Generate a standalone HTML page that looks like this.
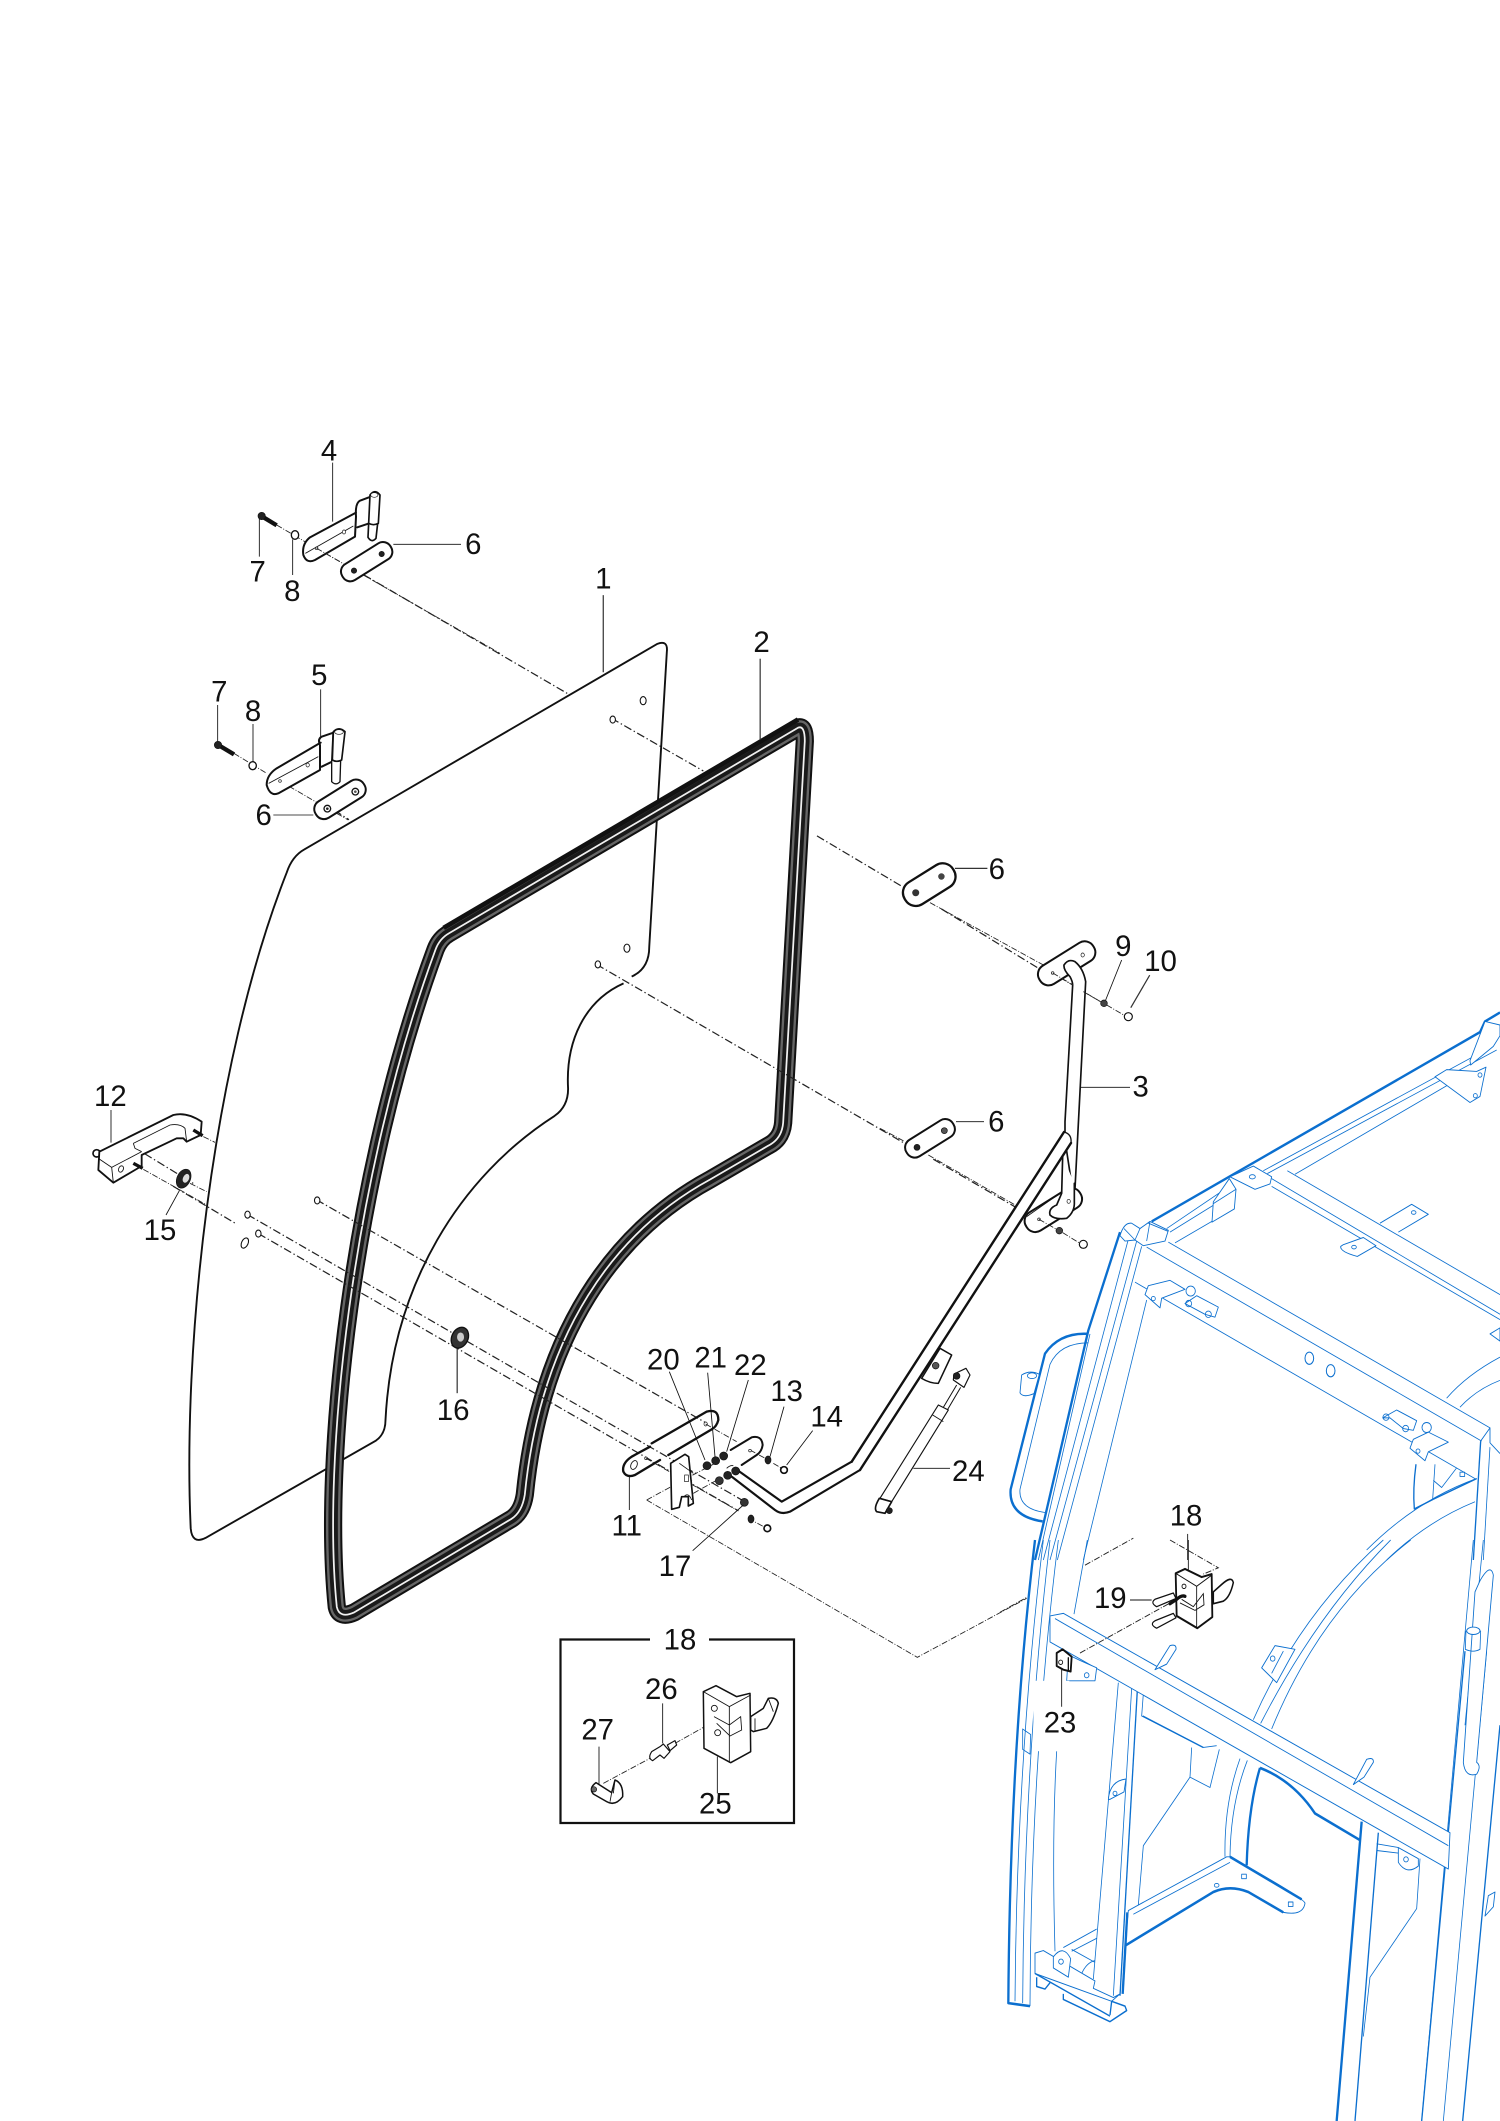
<!DOCTYPE html>
<html><head><meta charset="utf-8"><style>
html,body{margin:0;padding:0;background:#fff}
svg{display:block}
text{font-family:"Liberation Sans",sans-serif;fill:#111;text-anchor:middle}
.z text{font-size:88px}
.th{fill:none;stroke:#111;stroke-width:2.6}
.o{fill:#fff;stroke:#111;stroke-width:6;stroke-linejoin:round;stroke-linecap:round}
.o2{fill:#fff;stroke:#111;stroke-width:3.5;stroke-linejoin:round}
.n{fill:none;stroke:#111;stroke-width:7;stroke-linecap:round;stroke-linejoin:round}
.d{fill:none;stroke:#222;stroke-width:2.6;stroke-dasharray:18 5 3 5}
.dk{fill:#222;stroke:#111;stroke-width:2}
.h{fill:#fff;stroke:#111;stroke-width:2}
.t{fill:none;stroke:#0b6fcf;stroke-width:2.4;stroke-linejoin:round}
.m{fill:none;stroke:#0b6fcf;stroke-width:4;stroke-linejoin:round}
.k{fill:none;stroke:#0b6fcf;stroke-width:7;stroke-linejoin:round}
.w{fill:#fff;stroke:#0b6fcf;stroke-width:2.6;stroke-linejoin:round}
</style></head><body>
<svg width="1500" height="2121" viewBox="0 0 1500 2121" xmlns="http://www.w3.org/2000/svg">
<rect width="1500" height="2121" fill="#fff"/>

<!-- Blue frame lower -->
<g class="z" transform="translate(1000,1540) scale(.33333,.37052)">
 <path class="k" d="M105,0 Q30,560 25,1250 L90,1258"/>
 <path class="t" d="M130,0 Q50,600 45,1245M150,0 Q72,600 68,1250M175,0 Q92,600 90,1258M262,0 L222,200"/>
 <path class="t" d="M1150,0 Q900,200 760,485M1172,0 Q950,200 782,495M1232,0 Q960,190 815,510"/>
 <path class="t" d="M720,590 Q672,710 675,855M742,595 Q692,710 690,855"/>
 <path class="k" d="M780,615 Q745,720 740,878"/>
 <path class="t" d="M1420,0 L1265,1568M1450,0 L1395,500"/>
 <path class="m" d="M1395,300 L1265,1568"/>
 <path class="m" d="M1500,500 L1388,1568"/>
 <path class="t" d="M1460,300 L1330,1568"/>
 <path class="w" d="M1440,110 Q1472,60 1480,95 L1430,600 Q1445,610 1430,632 Q1395,642 1390,600 L1425,140 Z"/>
 <ellipse class="w" cx="1420" cy="245" rx="20" ry="10"/><path class="t" d="M1398,245 L1396,295 Q1420,305 1440,295 L1442,245"/>
 <path class="t" d="M430,415 L425,475 L610,560 L650,555 M575,560 L570,640 L630,668 L658,565 M570,640 L430,825 L415,985"/>
 <path class="m" d="M428,475 L610,560"/>
 <path class="w" d="M680,855 L385,1000 L375,1095 L640,950 Q690,930 745,950 L850,1005 Q910,1015 915,980 Q910,965 690,855 Z"/>
 <path class="k" d="M375,1095 L640,950 Q690,930 745,950 L850,1005"/><path class="k" d="M690,855 L905,970"/>
 <path class="t" d="M690,870 L400,1010"/>
 <ellipse class="t" cx="650" cy="932" rx="7" ry="5"/><rect class="t" x="725" y="902" width="14" height="12"/><rect class="t" x="865" y="977" width="14" height="12"/>
 <path class="k" d="M780,615 Q880,650 945,738 L1080,810"/>
 <path class="t" d="M1260,860 L1250,995 L1110,1180 L1090,1340"/>
 <path class="w" d="M1195,830 L1255,860 L1255,880 Q1220,905 1195,870 Z"/><circle class="t" cx="1218" cy="862" r="7"/>
 <path class="t" d="M1130,820 L1195,830M1130,838 L1195,845"/>
 <path class="w" d="M1465,960 L1485,950 L1480,990 L1455,1015 Z"/>
 <path class="t" d="M170,570 Q155,800 165,1110"/>
 <path class="k" d="M1085,760 L1010,1568"/>
 <path class="m" d="M1135,790 L1065,1568"/>
 <path class="t" d="M355,385 L280,1185M395,400 L340,1230"/><path class="m" d="M412,405 L360,1230"/>
 <path class="k" d="M382,1005 L368,1225"/>
 <path class="t" d="M190,1100 L290,1050M215,1110 L290,1075M245,1170 Q260,1140 285,1135M215,1105 L285,1140"/>
 <path class="w" d="M105,1115 L130,1108 L285,1190 L280,1210 L340,1235 L360,1225 L335,1245 L105,1170 Z"/>
 <path class="m" d="M105,1170 L330,1285M110,1180 L110,1205 L135,1212 L150,1195"/>
 <path class="m" d="M190,1225 L190,1240 L330,1300 L380,1270 L375,1258 L335,1245 L330,1282"/>
 <path class="w" d="M160,1125 Q190,1090 212,1130 L205,1180 L160,1155 Z"/><circle class="t" cx="183" cy="1138" r="7"/>
 <path class="w" d="M150,205 L190,198 L1350,790 L1345,888 L150,275 Z"/>
 <path class="t" d="M165,212 L1345,825"/>
 <path class="w" d="M465,350 L510,285 Q530,280 528,295 L500,335 Z"/>
 <path class="w" d="M1060,660 L1100,592 Q1122,585 1120,600 L1092,640 Z"/>
 <path class="w" d="M785,345 L825,285 L885,295 L830,385 Z"/><path class="t" d="M815,360 L850,300"/><circle class="t" cx="818" cy="320" r="7"/>
 <path class="w" d="M325,700 Q330,650 378,645 L372,680 L330,700 Z"/><circle class="t" cx="345" cy="684" r="6"/>
 <path class="w" d="M205,310 L240,325 L290,345 L285,380 L200,380 Z"/><circle class="t" cx="260" cy="365" r="7"/>
 <rect x="100" y="380" width="108" height="190" fill="#fff"/>
 <path class="t" d="M68,510 L92,525 L90,578 L68,565 Z"/>
</g>

<!-- Blue frame upper -->
<g class="z" transform="translate(1000,1000) scale(.33333,.35714)">
 <path class="k" d="M360,650 L265,925 L105,1568"/>
 <path class="k" d="M455,620 L1440,90 L1455,60 L1500,35"/>
 <path class="t" d="M385,670 L130,1568M410,675 L150,1568M425,690 L172,1568M440,840 L250,1568M270,935 L115,1568"/>
 <path class="t" d="M500,640 L690,520M510,650 L700,540M790,478 L1480,128M802,486 L1490,140M525,680 L700,585M885,488 L1340,240"/>
 <path class="k" d="M265,935 Q180,930 135,990 L32,1370 Q25,1445 128,1460"/>
 <path class="t" d="M265,960 Q180,960 150,1020 L60,1370 Q55,1425 135,1435"/>
 <path class="t" d="M1340,1115 Q1400,1050 1500,1000M1380,1140 Q1430,1090 1500,1065"/>
 <path class="t" d="M1100,1540 Q1250,1400 1430,1340M1160,1568 Q1280,1460 1425,1405"/>
 <path class="m" d="M1248,1300 Q1238,1370 1243,1425 L1300,1398"/>
 <path class="t" d="M1305,1300 L1298,1398M1300,1345 L1325,1365 L1370,1310"/>
 <path class="m" d="M1430,1340 L1300,1398"/>
 <path class="m" d="M1442,1235 L1420,1568"/><path class="t" d="M1470,1250 L1450,1568"/>
 <path class="w" d="M1442,1235 L1470,1198 L1470,1240 L1500,1270"/>
 <path class="t" d="M505,678 L1470,1198M440,692 L1445,1235M405,790 L1425,1340"/>
 <path class="t" d="M815,500 L1500,880M815,522 L1500,895M862,478 L1500,825"/>
 <path class="w" d="M1140,625 L1235,572 L1285,600 L1195,650"/><ellipse class="t" cx="1241" cy="595" rx="7" ry="5"/>
 <path class="w" d="M1030,685 L1090,665 L1128,688 L1072,718 Q1020,705 1022,690 Z"/><ellipse class="t" cx="1062" cy="692" rx="7" ry="5"/>
 <path class="w" d="M1470,935 L1500,918 L1500,955 Z"/>
 <ellipse class="m" cx="928" cy="1003" rx="13" ry="17" style="stroke-width:3"/><ellipse class="m" cx="992" cy="1038" rx="13" ry="17" style="stroke-width:3"/>
 <path class="w" d="M690,495 L760,465 L815,495 L810,515 L765,530 Z"/><ellipse class="t" cx="757" cy="495" rx="9" ry="6"/>
 <path class="w" d="M640,565 L688,500 L708,530 L703,585 L636,622 Z"/><path class="t" d="M708,530 L640,570"/>
 <path class="w" d="M1455,60 L1410,170 L1412,182 L1480,130 L1500,100 L1500,70 Z"/>
 <path class="w" d="M1305,215 L1340,195 L1430,200 L1458,188 L1440,270 L1410,287 Z"/><circle class="t" cx="1440" cy="210" r="6"/><circle class="t" cx="1426" cy="268" r="6"/>
 <path class="w" d="M360,660 Q372,622 395,625 L420,640 L450,620 L505,645 L495,675 L430,688 L405,672 L375,675 Z"/>
 <path class="t" d="M450,620 L440,675M445,625 L505,648M420,640 L405,672M372,640 L405,672"/>
 <path class="w" d="M65,1050 Q90,1035 118,1048 L102,1102 Q70,1115 60,1100 Z"/><ellipse class="t" cx="96" cy="1052" rx="14" ry="8"/>
 <path class="w" d="M435,825 L445,800 L510,785 L555,810 L485,835 L480,862 Z"/><circle class="t" cx="460" cy="836" r="6"/>
 <circle class="w" cx="572" cy="815" r="14"/>
 <path class="w" d="M555,850 L590,828 L655,860 L645,888 L615,880 Z"/><circle class="t" cx="566" cy="850" r="9"/><circle class="t" cx="625" cy="880" r="9"/>
 <path class="w" d="M1148,1170 L1190,1148 L1250,1178 L1240,1205 L1210,1200 L1170,1170 Z"/><circle class="t" cx="1158" cy="1168" r="9"/><circle class="t" cx="1217" cy="1200" r="9"/>
 <circle class="w" cx="1280" cy="1197" r="14"/>
 <path class="w" d="M1230,1255 L1240,1230 L1285,1210 L1345,1238 L1285,1265 L1275,1290 Z"/><circle class="t" cx="1254" cy="1263" r="6"/>
 <rect class="t" x="1380" y="1322" width="14" height="12"/>
</g>

<!-- Display-coordinate group: glass, seal, dashed axes -->
<g transform="scale(1.3526)">
 <path fill="none" stroke="#111" stroke-width="1.4" d="M225,628 L486,476 Q494,473 493,482 L480,700 Q480,716 467,722 M461,727 C432,740 418,770 420,805 Q420,818 410,825 C340,870 290,950 285,1050 Q285,1060 278,1065 L152,1137 Q142,1142 141,1130 C135,1000 155,790 212,645 Q216,633 225,628"/>
 <ellipse cx="475.5" cy="518" rx="2.2" ry="3" fill="#fff" stroke="#111" stroke-width=".8"/>
 <ellipse cx="463.5" cy="701" rx="2.2" ry="3" fill="#fff" stroke="#111" stroke-width=".8"/>
 <ellipse cx="181" cy="919" rx="2.4" ry="4" transform="rotate(25 181 919)" fill="#fff" stroke="#111" stroke-width=".8"/>
 <g fill="none" stroke-linejoin="round">
  <path stroke="#111" stroke-width="13.5" d="M590,538 Q595,536 595,548 L579,830 Q578,842 568,847 L525,872 C455,910 400,985 388,1105 Q386,1118 378,1123 L262,1192 Q251,1197 249,1188 C238,1080 260,870 322,702 Q325,694 332,690 Z"/>
  <path stroke="#666" stroke-width="10.5" d="M590,538 Q595,536 595,548 L579,830 Q578,842 568,847 L525,872 C455,910 400,985 388,1105 Q386,1118 378,1123 L262,1192 Q251,1197 249,1188 C238,1080 260,870 322,702 Q325,694 332,690 Z"/>
  <path stroke="#1a1a1a" stroke-width="7" d="M590,538 Q595,536 595,548 L579,830 Q578,842 568,847 L525,872 C455,910 400,985 388,1105 Q386,1118 378,1123 L262,1192 Q251,1197 249,1188 C238,1080 260,870 322,702 Q325,694 332,690 Z"/>
  <path stroke="#f0f0f0" stroke-width="1.3" d="M590,538 Q595,536 595,548 L579,830 Q578,842 568,847 L525,872 C455,910 400,985 388,1105 Q386,1118 378,1123 L262,1192 Q251,1197 249,1188 C238,1080 260,870 322,702 Q325,694 332,690 Z"/>
  <path stroke="#111" stroke-width="3.5" d="M590,532 L328,686"/>
 </g>
 <g fill="none" stroke="#222" stroke-width=".9" stroke-dasharray="6 2 1 2">
  <path d="M269,425 L420,513"/>
  <path d="M452,531 L520,570M604,618 L668,656M696,672 L768,716"/>
  <path d="M441,713 L670,846M690,857 L762,899"/>
  <path d="M234,887 L522,1052"/>
  <path d="M183,898 L552,1111M191,912 L546,1117"/>
  <path d="M107,853 L143,875M128,877 L175,905"/>
  <path d="M238,593 L258,606"/>
 </g>
 <ellipse cx="234.5" cy="887.5" rx="2" ry="2.6" fill="#fff" stroke="#111" stroke-width=".8"/>
 <ellipse cx="183" cy="898" rx="2" ry="2.6" fill="#fff" stroke="#111" stroke-width=".8"/>
 <ellipse cx="191" cy="912" rx="2" ry="2.6" fill="#fff" stroke="#111" stroke-width=".8"/>
 <ellipse cx="453" cy="532" rx="2" ry="2.6" fill="#fff" stroke="#111" stroke-width=".8"/>
 <ellipse cx="442" cy="713" rx="2" ry="2.6" fill="#fff" stroke="#111" stroke-width=".8"/>
 <line x1="446" y1="440" x2="446" y2="497" stroke="#333" stroke-width=".9"/>
 <line x1="562" y1="487" x2="562" y2="547" stroke="#333" stroke-width=".9"/>
 <line x1="338" y1="995" x2="338" y2="1030" stroke="#333" stroke-width=".9"/>
 <ellipse cx="340" cy="989" rx="6" ry="8" transform="rotate(25 340 989)" fill="#333" stroke="#111"/>
 <ellipse cx="340.5" cy="988.5" rx="2.6" ry="3.4" fill="#ccc"/>
 <g transform="translate(687,654) rotate(-32)"><rect x="-21" y="-9.5" width="42" height="19" rx="9" fill="#fff" stroke="#111" stroke-width="1.7"/></g>
 <circle cx="677" cy="660" r="2.6" fill="#333"/><circle cx="696" cy="648" r="2.4" fill="#444"/>
 <line x1="706" y1="642" x2="730" y2="642" stroke="#333" stroke-width=".9"/>
 <line x1="850" y1="721" x2="836" y2="745" stroke="#333" stroke-width=".9"/>
 <text x="446" y="435" font-size="21.8">1</text>
 <text x="563" y="482" font-size="21.8">2</text>
 <text x="737" y="650" font-size="21.8">6</text>
 <text x="858" y="718" font-size="21.8">10</text>
 <text x="335" y="1050" font-size="21.8">16</text>
</g>

<!-- Box 18 -->
<path fill="none" stroke="#111" stroke-width="2.2" d="M650,1639.5 L560.5,1639.5 L560.5,1823 L794,1823 L794,1639.5 L709,1639.5"/>

<!-- Z1 hinges -->
<g class="z" transform="translate(80,420) scale(.33333)">
 <path class="d" d="M590,315 L700,380M710,385 L800,437M850,465 L1260,700"/>
 <path class="d" d="M462,1000 L560,1060M600,1083 L715,1150M770,1180 L805,1200"/>
 <path class="o" d="M828,278 L690,352 Q665,372 670,405 Q680,432 705,420 L825,350 L828,290 Q825,250 840,242 L872,230 L868,310 L832,322"/>
 <path class="th" d="M676,400 L820,318"/>
 <path class="o" style="stroke-width:5" d="M866,310 L864,352 Q875,370 888,355 L893,310 Z"/>
 <path class="o" style="stroke-width:5" d="M870,225 Q885,205 900,225 L895,310 Q880,318 866,310 Z"/>
 <ellipse cx="883" cy="225" rx="11" ry="7" class="h"/>
 <circle cx="710" cy="385" r="4" class="h"/><ellipse cx="792" cy="336" rx="5" ry="6" class="h"/>
 <path class="d" d="M710,385 L780,425"/>
 <rect class="o" x="-85" y="-28" width="170" height="56" rx="26" transform="translate(860,425) rotate(-32)"/>
 <circle class="dk" cx="822" cy="452" r="8"/><circle class="dk" cx="905" cy="402" r="8"/>
 <path stroke="#111" stroke-width="13" d="M552,293 L590,316" fill="none"/><circle class="dk" cx="545" cy="288" r="11"/>
 <ellipse class="h" cx="645" cy="345" rx="11" ry="13" style="stroke-width:4"/>
 <path class="th" d="M758,128 L758,305M538,295 L538,410M638,358 L638,465M940,373 L1143,373M722,808 L722,950M413,855 L413,970M519,912 L519,1025M580,1185 L700,1185"/>
 <path class="o" d="M722,968 L590,1045 Q560,1065 560,1095 Q570,1130 595,1120 L720,1050 L720,975 Q712,958 725,950 L760,938 L756,1025 L725,1040"/>
 <path class="th" d="M566,1090 L715,1010"/>
 <path class="o" style="stroke-width:4" d="M755,1020 L755,1085 Q768,1098 780,1085 L782,1020 Z"/>
 <path class="o" style="stroke-width:5" d="M760,935 Q777,918 795,935 L785,1020 Q770,1028 757,1020 Z"/>
 <ellipse cx="777" cy="936" rx="13" ry="7" class="h"/>
 <circle cx="600" cy="1083" r="4" class="h"/><ellipse cx="683" cy="1035" rx="5" ry="6" class="h"/>
 <rect class="o" x="-85" y="-29" width="170" height="58" rx="27" transform="translate(780,1138) rotate(-32)"/>
 <circle cx="742" cy="1166" r="10" class="o2" style="stroke-width:4"/><circle cx="742" cy="1166" r="4" fill="#222"/>
 <circle cx="826" cy="1115" r="10" class="o2" style="stroke-width:4"/><circle cx="826" cy="1115" r="4" fill="#555"/>
 <path stroke="#111" stroke-width="13" d="M420,978 L462,1003" fill="none"/><circle class="dk" cx="414" cy="975" r="11"/>
 <ellipse class="h" cx="518" cy="1037" rx="11" ry="12" style="stroke-width:4"/>
 <text x="747" y="122">4</text><text x="533" y="485">7</text><text x="637" y="543">8</text><text x="1180" y="402">6</text>
 <text x="718" y="795">5</text><text x="418" y="845">7</text><text x="519" y="903">8</text><text x="551" y="1215">6</text>
</g>

<!-- Z5 arm -->
<g class="z" transform="translate(880,900) scale(.33333)">
 <path class="d" d="M150,8 L490,195M515,218 L670,310M680,315 L740,350"/>
 <path class="d" d="M0,685 L75,725M145,765 L440,935"/>
 <rect class="o" x="-95" y="-32" width="190" height="64" rx="30" transform="translate(560,190) rotate(-32)"/>
 <circle class="h" cx="518" cy="219" r="4"/><ellipse class="h" cx="608" cy="165" rx="5" ry="6"/>
 <path class="o" d="M578,255 L555,665 L555,720 L583,905 L617,245 Q610,205 585,185 Q565,175 552,195 Q550,210 570,230 Q578,245 578,255 Z" style="stroke-width:5"/>
 <path class="d" d="M518,219 L580,255M610,275 L670,310"/>
 <rect class="o" x="-95" y="-32" width="190" height="64" rx="30" transform="translate(520,930) rotate(-32)"/>
 <path class="th" d="M440,950 L540,880"/>
 <path class="o" style="stroke-width:5" d="M583,850 L583,905 Q585,935 560,955 Q525,960 510,945 Q505,925 530,915 L545,880 L548,770"/>
 <circle class="h" cx="477" cy="958" r="4"/><ellipse class="h" cx="566" cy="904" rx="5" ry="6"/>
 <path class="d" d="M477,958 L530,988M548,998 L600,1030"/>
 <rect class="o" x="-82" y="-29" width="164" height="58" rx="27" transform="translate(150,715) rotate(-32)"/>
 <circle class="dk" cx="111" cy="742" r="9"/><circle class="dk" cx="193" cy="692" r="9" style="fill:#555"/>
 <circle class="dk" cx="538" cy="992" r="10" style="fill:#444"/><circle class="o2" cx="610" cy="1033" r="12"/>
 <circle class="dk" cx="672" cy="310" r="10" style="fill:#444"/><circle class="o2" cx="745" cy="350" r="12"/>
 <path class="th" d="M603,562 L750,562M228,665 L312,665M725,180 L677,300"/>
 <text x="730" y="168">9</text><text x="349" y="694">6</text><text x="782" y="590">3</text>
</g>
<!-- Long diagonal of arm, in page pixels -->
<path fill="#fff" stroke="none" d="M1064,1132 Q1072,1134 1071,1143 L960,1320 L945,1320 Z"/>
<path fill="none" stroke="#111" stroke-width="2.4" stroke-linecap="round" d="M1064,1132 L851.7,1461.7M1071,1143 L860,1470"/>
<path fill="none" stroke="#111" stroke-width="1.3" d="M1064,1132 Q1072,1134 1071,1143"/>

<!-- Z2 lower group -->
<g class="z" transform="translate(560,1300) scale(.33333)">
 <path class="d" d="M260,600 L1072,1072 L1400,895M260,600 L370,540"/>
 <path class="d" d="M370,540 L465,490M400,580 L480,535"/>
 <path class="n" d="M275,430 L440,335 Q475,325 475,360 Q470,380 455,388 L325,465M270,440 L215,470 Q185,490 190,515 Q200,535 225,525 L300,480"/>
 <ellipse class="th" cx="222" cy="495" rx="9" ry="14" transform="rotate(25 222 495)"/>
 <circle class="h" cx="258" cy="475" r="4"/><ellipse class="h" cx="437" cy="372" rx="5" ry="6"/>
 <path class="d" d="M437,372 L530,425M570,450 L625,480M640,490 L670,508M258,475 L530,630M565,655 L620,685M380,535 L400,545"/>
 <path class="n" d="M512,450 L575,412 Q605,405 608,435 Q605,455 590,465 L545,495" style="stroke-width:6"/>
 <circle class="h" cx="570" cy="452" r="4"/>
 <path class="o" d="M332,490 L375,463 L386,470 L400,610 L385,618 L385,590 L365,590 L358,622 L335,628 Z" style="stroke-width:5"/>
 <rect class="h" x="374" y="525" width="11" height="20"/><path class="th" d="M358,490 L400,520M372,590 Q385,575 395,600"/>
 <path d="M525,505 L665,605 L875,485M900,510 L690,635 Q665,645 645,630 L515,530" class="n" style="stroke-width:6.5"/>
 <path class="th" d="M500,505 Q510,495 520,497"/>
 <circle class="dk" cx="441" cy="497" r="12"/><circle class="dk" cx="467" cy="482" r="12"/><circle class="dk" cx="491" cy="468" r="12"/>
 <circle class="dk" cx="478" cy="542" r="12" style="fill:#333"/><circle class="dk" cx="503" cy="526" r="12"/><circle class="dk" cx="527" cy="513" r="12"/>
 <circle class="dk" cx="553" cy="607" r="12" style="fill:#333"/><ellipse class="dk" cx="573" cy="657" rx="9" ry="12"/><ellipse class="dk" cx="624" cy="480" rx="9" ry="12"/>
 <circle class="o2" cx="622" cy="685" r="10" style="stroke-width:5"/><circle class="o2" cx="672" cy="510" r="10" style="stroke-width:5"/>
 <path class="o" d="M1085,235 L1140,145 L1175,165 L1135,250 Q1110,250 1085,235 Z" style="stroke-width:4.5"/><circle class="dk" cx="1127" cy="197" r="10" style="fill:#555"/>
 <path class="o2" d="M960,595 L1135,315 L1165,330 L995,605 Z"/><path class="th" d="M1118,345 L1150,365"/>
 <path class="th" d="M1150,322 L1190,255M1162,330 L1202,262" style="stroke-width:3"/>
 <path class="o2" d="M1182,222 L1218,205 L1230,225 L1212,262 L1180,240 Z"/><circle class="dk" cx="1190" cy="228" r="10"/>
 <path class="o" d="M958,595 L995,605 L975,640 L950,635 Q940,625 958,595 Z" style="stroke-width:5"/><circle class="dk" cx="988" cy="632" r="9"/>
 <path class="th" d="M328,215 L435,480M443,218 L465,470M565,240 L500,455M672,320 L630,470M758,392 L680,495M208,530 L208,630M398,752 L550,615M1060,505 L1170,505M308,1210 L308,1330M117,1340 L117,1460M472,1370 L472,1480"/>
 <path class="d" d="M130,1450 L270,1375M345,1330 L470,1260"/>
 <path class="o" style="stroke-width:4.5" d="M572,1250 L610,1225 L625,1195 Q650,1190 655,1210 Q640,1265 620,1285 L580,1295 L572,1290 Z"/><path class="th" d="M585,1255 L585,1295M625,1195 L640,1235"/>
 <path class="o" style="stroke-width:4.5" d="M430,1175 L468,1157 L530,1190 L570,1180 L572,1355 L512,1388 L432,1345 Z"/>
 <path class="th" d="M430,1175 L508,1220 L572,1185M508,1220 L508,1388M462,1250 L508,1275 L542,1250 L545,1290 L510,1308 L470,1270"/>
 <circle class="th" cx="463" cy="1225" r="9"/><circle class="th" cx="473" cy="1298" r="9"/>
 <path class="o2" d="M275,1355 L300,1340 L310,1332 L330,1355 L312,1375 L300,1365 L278,1382 Q262,1375 275,1355 Z"/>
 <path class="o2" d="M322,1335 L345,1322 L350,1335 L330,1352 Z"/>
 <path class="o" style="stroke-width:4.5" d="M108,1448 L155,1478 L165,1440 Q190,1450 188,1490 Q165,1520 140,1505 L100,1482 Q85,1465 108,1448 Z"/>
 <circle class="dk" cx="102" cy="1468" r="8" style="fill:#666"/><path class="th" d="M155,1478 L150,1505M165,1440 L160,1480"/>
 <text x="310" y="208">20</text><text x="452" y="202">21</text><text x="571" y="225">22</text>
 <text x="680" y="303">13</text><text x="800" y="380">14</text><text x="200" y="707">11</text>
 <text x="345" y="828">17</text><text x="1225" y="543">24</text><text x="360" y="1048">18</text>
 <text x="304" y="1197">26</text><text x="113" y="1318">27</text><text x="466" y="1540">25</text>
</g>

<!-- Z4 latch on frame -->
<g class="z" transform="translate(1000,1540) scale(.33333,.37052)">
 <path class="d" d="M255,68 L400,-5M510,0 L655,75L610,92M0,195 L80,155M240,305 L530,160"/>
 <path class="o" style="stroke-width:4.5" d="M640,140 L665,120 Q695,95 700,115 Q690,155 670,165 L640,172 Z"/>
 <path class="o" style="stroke-width:5.5" d="M527,90 L555,78 L605,100 L635,92 L637,208 L592,238 L530,205 Z"/>
 <path class="th" d="M527,90 L590,125 L635,95M590,125 L590,238M545,160 L580,180 L610,145 L612,175 L585,190 L540,170"/>
 <circle class="th" cx="552" cy="125" r="6"/>
 <path class="o2" d="M465,160 L520,143 L528,158 L470,180 Q450,170 465,160 Z"/>
 <path class="o2" d="M465,218 L520,198 L528,210 L470,238 Q447,228 465,218 Z"/>
 <path class="n" d="M510,172 L530,160 Q545,148 555,152" style="stroke-width:9"/>
 <path class="o" style="stroke-width:5.5" d="M170,305 L188,295 L215,315 L212,355 L190,350 L170,340 Z"/><circle class="th" cx="182" cy="330" r="6"/>
 <path class="n" d="M205,318 L205,352" style="stroke-width:4"/>
 <path class="th" d="M390,162 L455,162M565,0 L565,80M185,350 L185,450"/>
</g>
<g class="z" transform="translate(1000,1000) scale(.33333,.35714)">
 <path class="th" d="M563,1495 L563,1568"/>
</g>
<text x="1110.3" y="1607.8" font-size="29.3">19</text>
<text x="1060" y="1732.3" font-size="29.3">23</text>
<text x="1186" y="1525.7" font-size="29.3">18</text>

<!-- Z6 handle -->
<g class="z" transform="translate(80,1080) scale(.33333)">
 <path class="d" d="M190,268 L380,375M370,170 L405,187M330,310 L380,335"/>
 <circle class="o2" cx="50" cy="220" r="11" style="stroke-width:5"/>
 <path class="o" style="stroke-width:5.5" d="M58,215 L280,105 Q320,95 365,125 L362,165 L320,185 L310,175 L290,175 L185,225 L185,258 L100,308 L55,270 Z"/>
 <path class="th" d="M55,235 L95,262 L100,308M95,262 L185,215M160,190 L270,135 Q300,130 315,145 L320,185M160,190 L165,205 L185,215"/>
 <ellipse class="th" cx="123" cy="267" rx="7" ry="10" transform="rotate(25 123 267)"/>
 <path stroke="#111" stroke-width="10" d="M160,250 L188,265M340,150 L368,167" fill="none"/>
 <ellipse class="dk" cx="311" cy="296" rx="20" ry="30" transform="rotate(25 311 296)"/>
 <ellipse cx="318" cy="295" rx="9" ry="14" transform="rotate(25 318 295)" fill="#ddd"/>
 <path class="th" d="M298,332 L258,405"/>
 <path class="th" d="M93,90 L93,188"/>
 <text x="91" y="78">12</text><text x="240" y="480">15</text>
</g>
</svg>
</body></html>
